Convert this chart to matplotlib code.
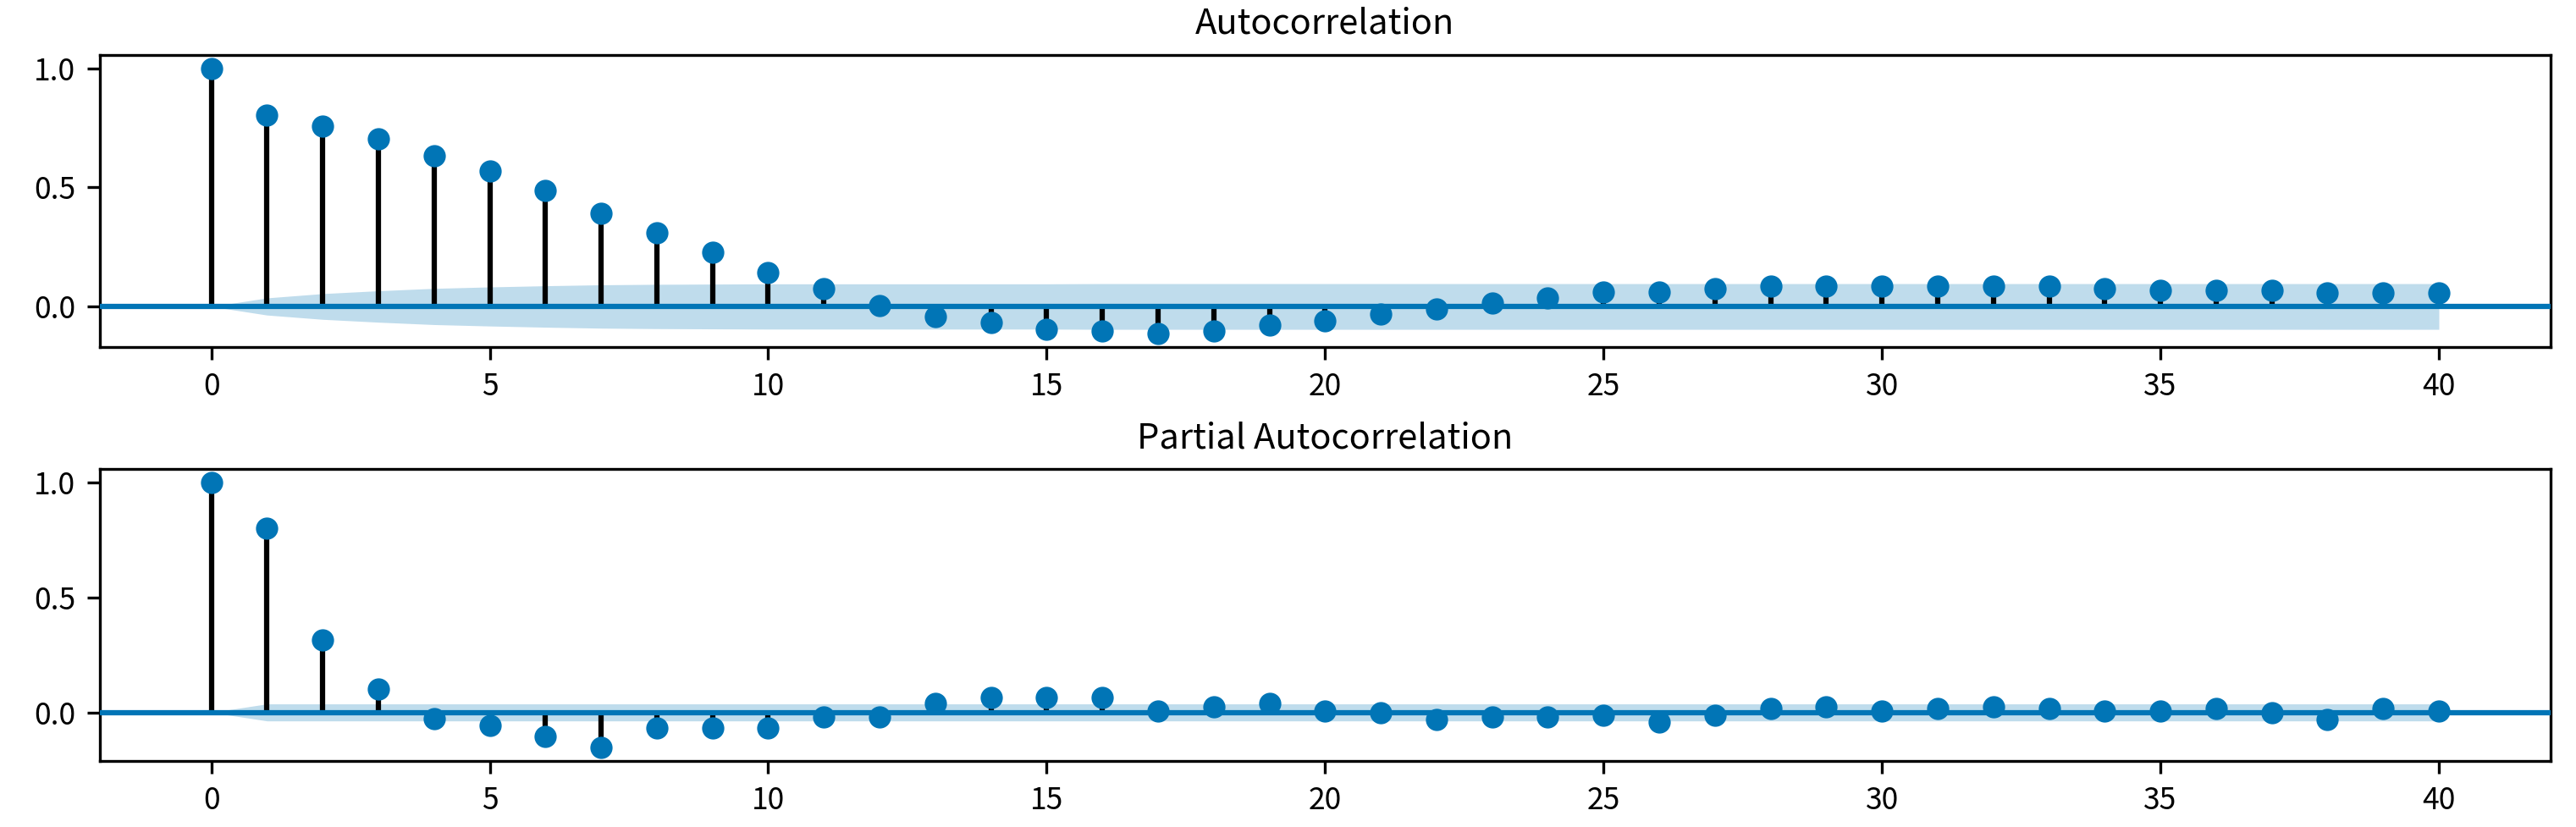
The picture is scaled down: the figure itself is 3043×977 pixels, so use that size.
import matplotlib
matplotlib.use("Agg")
import matplotlib.pyplot as plt
import numpy as np

plt.rcParams['font.family'] = ['Noto Sans CJK SC', 'DejaVu Sans']
plt.rcParams['axes.unicode_minus'] = False

# lags 0..40
lags = np.arange(41)

# autocorrelation values
acf_vals = [1.0, 0.803, 0.757, 0.704, 0.633, 0.570, 0.488, 0.390, 0.309, 0.229,
            0.141, 0.076, 0.005, -0.041, -0.068, -0.094, -0.103, -0.113, -0.103, -0.077,
            -0.059, -0.033, -0.012, 0.014, 0.035, 0.059, 0.059, 0.076, 0.087, 0.087,
            0.087, 0.087, 0.087, 0.087, 0.076, 0.069, 0.069, 0.069, 0.058, 0.058,
            0.058]
# half width of the acf confidence band
acf_band = [0.0, 0.036, 0.054, 0.066, 0.076, 0.082, 0.087, 0.091, 0.093, 0.094,
            0.095, 0.095, 0.095, 0.095, 0.095, 0.095, 0.096, 0.096, 0.096, 0.096,
            0.096, 0.096, 0.096, 0.096, 0.096, 0.096, 0.096, 0.096, 0.096, 0.096,
            0.096, 0.096, 0.096, 0.096, 0.096, 0.096, 0.096, 0.096, 0.096, 0.096,
            0.096]

# partial autocorrelation values
pacf_vals = [1.0, 0.801, 0.314, 0.102, -0.029, -0.058, -0.103, -0.153, -0.067, -0.067,
             -0.067, -0.021, -0.021, 0.040, 0.063, 0.063, 0.063, 0.007, 0.025, 0.038,
             0.006, -0.002, -0.031, -0.021, -0.021, -0.011, -0.042, -0.011, 0.018, 0.026,
             0.006, 0.016, 0.026, 0.016, 0.007, 0.007, 0.016, -0.002, -0.031, 0.016,
             0.007]
pacf_band = [0.0] + [0.037] * 40

titles = ['Autocorrelation', 'Partial Autocorrelation']
blue = '#0175B6'

fig, axes = plt.subplots(2, 1, figsize=(3043 / 300, 977 / 300), dpi=300)
fig.subplots_adjust(left=0.0388, right=0.990, top=0.9335, bottom=0.080, hspace=0.42)

for ax, vals, band, title in zip(axes, [acf_vals, pacf_vals], [acf_band, pacf_band], titles):
    vals = np.array(vals)
    band = np.array(band)
    ax.margins(0.05)
    # band first, then stems, zero line and dots on top
    ax.fill_between(lags, -band, band, alpha=0.25, color=blue, linewidth=0, zorder=1)
    ax.vlines(lags, [0], vals, colors='k', linewidth=1.5, zorder=2)
    ax.axhline(0, color=blue, linewidth=1.5, zorder=3)
    ax.plot(lags, vals, marker='o', markersize=5.3, linestyle='None', color=blue, zorder=4)
    ax.set_title(title, fontsize=10)
    ax.set_xticks(np.arange(0, 41, 5))
    ax.set_yticks([0.0, 0.5, 1.0])
    ax.tick_params(labelsize=8.5)

fig.savefig('out.png', dpi=300)
